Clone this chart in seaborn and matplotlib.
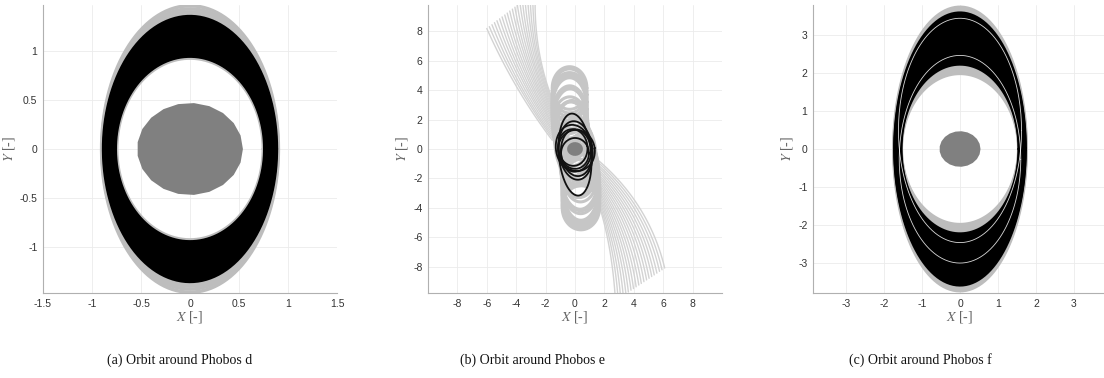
import numpy as np
import pandas as pd
import matplotlib
matplotlib.use("Agg")
import matplotlib.pyplot as plt
import seaborn as sns

# ---------------- data ----------------
PHOBOS_AX, PHOBOS_AY = 0.54, 0.47
PHOBOS_VERTS = 22

# (a) Phobos d : ellipse families (semi-axes x, y)
A_GRAY_AX = [0.748, 0.755, 0.80, 0.85, 0.890, 0.894, 0.898, 0.902]
A_GRAY_AY = [0.928, 0.940, 1.10, 1.25, 1.375, 1.400, 1.430, 1.462]
A_BLACK_AX = [0.763, 0.770, 0.777, 0.784, 0.791, 0.798, 0.805, 0.812, 0.819,
              0.826, 0.833, 0.840, 0.847, 0.854, 0.861, 0.868, 0.875, 0.882]
A_BLACK_AY = [0.948, 0.973, 0.998, 1.023, 1.048, 1.073, 1.098, 1.122, 1.147,
              1.172, 1.196, 1.221, 1.246, 1.270, 1.295, 1.320, 1.336, 1.352]

# (b) Phobos e : drifting bounded orbits (gray cloud): centre and semi-axes
B_CLOUD_CX = [-0.10, -0.15, -0.20, -0.24, -0.28, -0.31, -0.33, -0.35, -0.36, -0.37, -0.37, -0.37, -0.37, -0.37, -0.37, -0.37, -0.37,
              0.10, 0.15, 0.20, 0.25, 0.29, 0.32, 0.35, 0.37, 0.38, 0.39, 0.40, 0.40, 0.40, 0.40, 0.40, 0.40, 0.40]
B_CLOUD_CY = [0.20, 0.45, 0.70, 0.95, 1.20, 1.45, 1.70, 1.95, 2.20, 2.45, 2.70, 2.95, 3.20, 3.45, 3.70, 3.95, 4.15,
              -0.20, -0.45, -0.70, -0.95, -1.20, -1.45, -1.70, -1.95, -2.20, -2.45, -2.70, -2.95, -3.20, -3.45, -3.70, -3.85, -4.00]
B_CLOUD_AX = [1.12, 1.05, 1.18, 1.10, 1.19, 1.08, 1.20, 1.12, 1.20, 1.06, 1.20, 1.15, 1.20, 1.10, 1.19, 1.16, 1.18,
              1.18, 1.10, 1.24, 1.12, 1.26, 1.15, 1.28, 1.12, 1.29, 1.18, 1.29, 1.14, 1.29, 1.20, 1.28, 1.22, 1.27]
B_CLOUD_AY = [2.20, 1.60, 2.60, 1.50, 2.00, 1.80, 2.40, 1.60, 2.10, 1.70, 2.30, 1.90, 1.80, 1.60, 1.50, 1.50, 1.45,
              2.30, 1.70, 2.60, 1.55, 2.10, 1.80, 2.40, 1.65, 2.20, 1.75, 2.30, 1.90, 1.80, 1.70, 1.60, 1.55, 1.50]

# (b) escaping trajectories, upper-left fan: start, middle, end points
B_UL_SX = [-1.55, -1.55, -1.56, -1.56, -1.56, -1.57, -1.57, -1.57, -1.58, -1.58,
           -1.58, -1.59, -1.59, -1.59, -1.60, -1.60, -1.60, -1.61, -1.61, -1.62]
B_UL_SY = [0.60, 0.76, 0.92, 1.07, 1.23, 1.39, 1.55, 1.71, 1.86, 2.02,
           2.18, 2.34, 2.49, 2.65, 2.81, 2.97, 3.12, 3.28, 3.44, 3.60]
B_UL_MX = [-3.95, -3.87, -3.80, -3.72, -3.64, -3.57, -3.49, -3.41, -3.34, -3.26,
           -3.18, -3.11, -3.03, -2.95, -2.88, -2.80, -2.72, -2.65, -2.57, -2.50]
B_UL_MY = [4.20, 4.35, 4.49, 4.64, 4.79, 4.94, 5.08, 5.23, 5.38, 5.53,
           5.67, 5.82, 5.97, 6.12, 6.26, 6.41, 6.56, 6.71, 6.85, 7.00]
B_UL_EX = [-6.00, -5.83, -5.65, -5.48, -5.31, -5.13, -4.96, -4.78, -4.61, -4.44,
           -4.26, -4.09, -3.92, -3.74, -3.57, -3.40, -3.22, -3.05, -2.87, -2.70]
B_UL_EY = [8.20, 8.33, 8.46, 8.60, 8.73, 8.86, 8.99, 9.12, 9.25, 9.39,
           9.52, 9.65, 9.78, 9.91, 10.04, 10.17, 10.31, 10.44, 10.57, 10.70]
# lower-right fan
B_LR_SX = [1.58, 1.58, 1.58, 1.59, 1.59, 1.59, 1.59, 1.60, 1.60, 1.60,
           1.60, 1.60, 1.60, 1.60, 1.60, 1.60, 1.60, 1.60, 1.60, 1.60]
B_LR_SY = [-0.77, -0.92, -1.08, -1.23, -1.39, -1.54, -1.70, -1.85, -2.00, -2.16,
           -2.31, -2.47, -2.62, -2.78, -2.93, -3.09, -3.24, -3.39, -3.55, -3.70]
B_LR_MX = [4.45, 4.34, 4.23, 4.12, 4.01, 3.90, 3.79, 3.68, 3.57, 3.46,
           3.34, 3.23, 3.12, 3.01, 2.90, 2.79, 2.68, 2.57, 2.46, 2.35]
B_LR_MY = [-4.10, -4.24, -4.38, -4.53, -4.67, -4.81, -4.95, -5.09, -5.24, -5.38,
           -5.52, -5.66, -5.81, -5.95, -6.09, -6.23, -6.37, -6.52, -6.66, -6.80]
B_LR_EX = [6.10, 5.92, 5.75, 5.57, 5.39, 5.22, 5.04, 4.87, 4.69, 4.51,
           4.34, 4.16, 3.98, 3.81, 3.63, 3.46, 3.28, 3.10, 2.93, 2.75]
B_LR_EY = [-8.10, -8.22, -8.33, -8.45, -8.57, -8.68, -8.80, -8.91, -9.03, -9.15,
           -9.26, -9.38, -9.50, -9.61, -9.73, -9.84, -9.96, -10.08, -10.19, -10.30]

# (b) bounded orbits (black): centre, semi-axes, tilt
B_BLACK_CX = [0.00, 0.05, -0.10, 0.10, -0.15, 0.10, 0.00]
B_BLACK_CY = [-0.38, -0.10, 0.05, -0.25, 0.10, -0.10, -0.30]
B_BLACK_AX = [1.10, 1.15, 1.20, 1.05, 1.00, 1.25, 0.95]
B_BLACK_AY = [2.80, 2.00, 1.60, 1.60, 1.25, 1.40, 1.05]
B_BLACK_ROT = [5, 6, 8, 6, 5, 8, 0]

# (c) Phobos f
C_GRAY_AX = [1.545, 1.550, 1.555, 1.558, 1.62, 1.68, 1.725, 1.735, 1.745]
C_GRAY_AY = [1.995, 2.070, 2.140, 2.200, 2.80, 3.20, 3.640, 3.700, 3.740]
C_BLACK_AX = [1.560, 1.567, 1.575, 1.582, 1.590, 1.597, 1.604, 1.612, 1.619, 1.627, 1.634,
              1.641, 1.649, 1.656, 1.663, 1.671, 1.678, 1.686, 1.693, 1.700, 1.708, 1.715]
C_BLACK_AY = [2.245, 2.309, 2.373, 2.436, 2.500, 2.564, 2.628, 2.692, 2.755, 2.819, 2.883,
              2.947, 3.011, 3.074, 3.138, 3.202, 3.266, 3.330, 3.393, 3.457, 3.521, 3.585]
C_GAP_CY = [-0.27, 0.49]
C_GAP_AX = [1.60, 1.62]
C_GAP_AY = [2.74, 2.96]

A_TICKS_X = [-1.5, -1, -0.5, 0, 0.5, 1, 1.5]
A_TICKS_Y = [-1, -0.5, 0, 0.5, 1]
B_TICKS = [-8, -6, -4, -2, 0, 2, 4, 6, 8]
C_TICKS = [-3, -2, -1, 0, 1, 2, 3]
CAPTIONS = ["(a) Orbit around Phobos d", "(b) Orbit around Phobos e", "(c) Orbit around Phobos f"]


# ---------------- helpers ----------------
def ellipses(cx, cy, axs, ays, rots, n=260):
    t = np.linspace(0, 2 * np.pi, n)
    frames = []
    for i, (x0, y0, a, b, r) in enumerate(zip(cx, cy, axs, ays, rots)):
        th = np.deg2rad(r)
        ex, ey = a * np.cos(t), b * np.sin(t)
        x = x0 + ex * np.cos(th) - ey * np.sin(th)
        y = y0 + ex * np.sin(th) + ey * np.cos(th)
        frames.append(pd.DataFrame({"x": x, "y": y, "orbit": i}))
    return pd.concat(frames, ignore_index=True)


def curves(sx, sy, mx, my, ex, ey, n=90):
    u = np.linspace(0, 1, n)
    frames = []
    for i in range(len(sx)):
        s = np.array([sx[i], sy[i]]); m = np.array([mx[i], my[i]]); e = np.array([ex[i], ey[i]])
        c = 2 * m - 0.5 * (s + e)
        p = ((1 - u) ** 2)[:, None] * s + (2 * u * (1 - u))[:, None] * c + (u ** 2)[:, None] * e
        frames.append(pd.DataFrame({"x": p[:, 0], "y": p[:, 1], "orbit": i}))
    return pd.concat(frames, ignore_index=True)


def draw(ax, df, color, lw, alpha=1.0, z=2):
    sns.lineplot(data=df, x="x", y="y", units="orbit", estimator=None, sort=False,
                 color=color, linewidth=lw, alpha=alpha, ax=ax, legend=False, zorder=z)


def phobos(ax):
    t = np.linspace(0, 2 * np.pi, PHOBOS_VERTS)
    ax.fill(PHOBOS_AX * np.cos(t), PHOBOS_AY * np.sin(t), color="#808080", lw=0, zorder=6)


def zeros(k):
    return [0.0] * k


# ---------------- figure ----------------
sns.set_style("white")
plt.rcParams["font.family"] = ["Liberation Sans", "DejaVu Sans"]
plt.rcParams["axes.unicode_minus"] = False
plt.rcParams["mathtext.fontset"] = "stix"

fig = plt.figure(figsize=(11.04, 3.78), dpi=100)
W, H = 294 / 1104, 288 / 378
B0 = (378 - 293) / 378
lefts = [43 / 1104, 428 / 1104, 813 / 1104]
axs = [fig.add_axes([l, B0, W, H]) for l in lefts]

GRAY = "#bdbdbd"

# (a)
ax = axs[0]
draw(ax, ellipses(zeros(len(A_GRAY_AX)), zeros(len(A_GRAY_AX)), A_GRAY_AX, A_GRAY_AY, zeros(len(A_GRAY_AX))), GRAY, 2.5)
draw(ax, ellipses(zeros(len(A_BLACK_AX)), zeros(len(A_BLACK_AX)), A_BLACK_AX, A_BLACK_AY, zeros(len(A_BLACK_AX))), "black", 2.5, z=3)
phobos(ax)
ax.set_xlim(-1.5, 1.5); ax.set_ylim(-1.47, 1.47)
ax.set_xticks(A_TICKS_X); ax.set_yticks(A_TICKS_Y)

# (b)
ax = axs[1]
draw(ax, curves(B_UL_SX, B_UL_SY, B_UL_MX, B_UL_MY, B_UL_EX, B_UL_EY), "#d3d3d3", 1.0)
draw(ax, curves(B_LR_SX, B_LR_SY, B_LR_MX, B_LR_MY, B_LR_EX, B_LR_EY), "#d3d3d3", 1.0)
n = len(B_CLOUD_AX)
draw(ax, ellipses(B_CLOUD_CX, B_CLOUD_CY, B_CLOUD_AX, B_CLOUD_AY, zeros(n)), "#c6c6c6", 2.2, z=3)
draw(ax, ellipses(B_BLACK_CX, B_BLACK_CY, B_BLACK_AX, B_BLACK_AY, B_BLACK_ROT), "#111111", 1.3, z=4)
phobos(ax)
ax.set_xlim(-10, 10); ax.set_ylim(-9.8, 9.8)
ax.set_xticks(B_TICKS); ax.set_yticks(B_TICKS)

# (c)
ax = axs[2]
draw(ax, ellipses(zeros(len(C_GRAY_AX)), zeros(len(C_GRAY_AX)), C_GRAY_AX, C_GRAY_AY, zeros(len(C_GRAY_AX))), GRAY, 2.5)
draw(ax, ellipses(zeros(len(C_BLACK_AX)), zeros(len(C_BLACK_AX)), C_BLACK_AX, C_BLACK_AY, zeros(len(C_BLACK_AX))), "black", 2.5, z=3)
draw(ax, ellipses(zeros(2), C_GAP_CY, C_GAP_AX, C_GAP_AY, zeros(2)), "white", 0.6, alpha=0.85, z=4)
phobos(ax)
ax.set_xlim(-3.87, 3.87); ax.set_ylim(-3.8, 3.8)
ax.set_xticks(C_TICKS); ax.set_yticks(C_TICKS)

for ax in axs:
    ax.grid(True, color="#ebebeb", lw=0.6, zorder=0)
    ax.set_axisbelow(True)
    for s in ["top", "right"]:
        ax.spines[s].set_visible(False)
    for s in ["left", "bottom"]:
        ax.spines[s].set_color("#b0b0b0")
        ax.spines[s].set_linewidth(0.8)
    ax.tick_params(length=0, pad=4, labelsize=7.5, labelcolor="#333333")
    ax.xaxis.set_major_formatter(matplotlib.ticker.FuncFormatter(lambda v, p: f"{v:g}"))
    ax.yaxis.set_major_formatter(matplotlib.ticker.FuncFormatter(lambda v, p: f"{v:g}"))
    ax.set_xlabel(r"$X$ [-]", family="Liberation Serif", fontsize=10, color="#666666", labelpad=0)
    ax.set_ylabel(r"$Y$ [-]", family="Liberation Serif", fontsize=10, color="#666666", labelpad=2)

cap_x = [180 / 1104, 533 / 1104, 920 / 1104]
for x, txt in zip(cap_x, CAPTIONS):
    fig.text(x, (378 - 360) / 378, txt, ha="center", va="center",
             family="Liberation Serif", fontsize=10, color="#111111")

fig.savefig("out.png", dpi=100)
